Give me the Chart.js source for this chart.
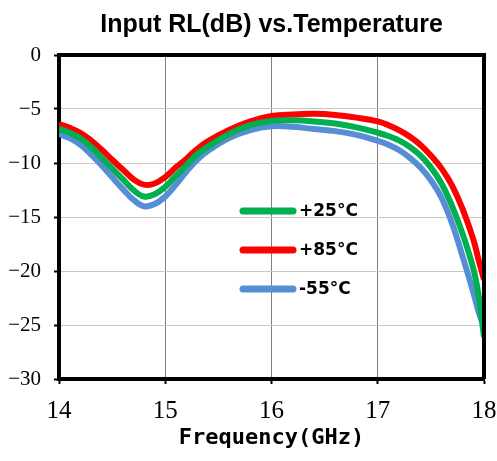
<!DOCTYPE html>
<html>
<head>
<meta charset="utf-8">
<script src="https://cdn.jsdelivr.net/npm/chart.js@4.4.0/dist/chart.umd.min.js"></script>
<style>
  body { margin: 0; background: #fff; }
  #wrap { width: 497px; height: 461px; }
</style>
</head>
<body>
<div id="wrap"><canvas id="myChart"></canvas></div>
<script>
// data
const freq = [14.0, 14.1, 14.2, 14.3, 14.4, 14.5, 14.6, 14.7, 14.8, 14.9, 15.0, 15.1, 15.2, 15.3, 15.4, 15.6, 15.8, 16.0, 16.2, 16.4, 16.6, 16.8, 17.0, 17.1, 17.2, 17.3, 17.4, 17.5, 17.6, 17.7, 17.8, 17.9, 17.95, 18.0];
const rl25 = [-6.8, -7.2, -7.7, -8.5, -9.5, -10.5, -11.5, -12.5, -13.1, -12.9, -12.2, -11.2, -10.2, -9.2, -8.5, -7.3, -6.5, -6.1, -6.05, -6.15, -6.35, -6.7, -7.2, -7.5, -7.9, -8.5, -9.3, -10.4, -11.9, -14.0, -16.6, -19.8, -22.3, -26.1];
const rl85 = [-6.4, -6.75, -7.2, -7.9, -8.75, -9.7, -10.6, -11.5, -12.0, -11.9, -11.3, -10.4, -9.6, -8.7, -8.0, -6.95, -6.15, -5.65, -5.5, -5.45, -5.55, -5.8, -6.15, -6.5, -6.95, -7.55, -8.3, -9.3, -10.5, -12.1, -14.3, -17.1, -19.0, -20.8];
const rlm55 = [-7.3, -7.7, -8.3, -9.2, -10.2, -11.3, -12.4, -13.4, -14.0, -13.8, -13.1, -12.0, -10.8, -9.7, -8.9, -7.7, -6.95, -6.6, -6.65, -6.85, -7.05, -7.4, -7.95, -8.3, -8.8, -9.5, -10.4, -11.6, -13.2, -15.6, -18.7, -22.0, -23.8, -25.2];
const labels = ['+25\u00B0C', '+85\u00B0C', '-55\u00B0C'];
const colors = ['#00b050', '#ff0000', '#558ed5'];
const chartTitle = 'Input RL(dB) vs.Temperature';

function pts(vals) {
    return freq.map(function (f, i) { return { x: f, y: vals[i] }; });
}

const series = [rl25, rl85, rlm55];
const datasets = series.map(function (vals, i) {
    return {
        label: labels[i],
        data: pts(vals),
        borderColor: colors[i],
        backgroundColor: colors[i],
        borderWidth: 6,
        pointRadius: 0,
        tension: 0.4,
        fill: false
    };
});

// top/right frame of the plot box + title centred over the plot
const frame = {
    id: 'frame',
    afterDatasetsDraw: function (chart) {
        const a = chart.chartArea;
        const ctx = chart.ctx;
        ctx.save();
        ctx.strokeStyle = '#000';
        ctx.lineWidth = 4;
        ctx.beginPath();
        ctx.moveTo(a.left - 2, a.top);
        ctx.lineTo(a.right, a.top);
        ctx.lineTo(a.right, a.bottom);
        ctx.stroke();

        ctx.fillStyle = '#000';
        ctx.font = 'bold 25px "Liberation Sans"';
        ctx.textAlign = 'center';
        ctx.textBaseline = 'middle';
        ctx.fillText(chartTitle, (a.left + a.right) / 2, 25);
        ctx.restore();
    }
};

// legend drawn inside the plot
const innerLegend = {
    id: 'innerLegend',
    afterDraw: function (chart) {
        const ctx = chart.ctx;
        ctx.save();
        chart.data.datasets.forEach(function (ds, i) {
            const y = 211 + 39 * i;
            ctx.strokeStyle = ds.borderColor;
            ctx.lineWidth = 7;
            ctx.lineCap = 'round';
            ctx.beginPath();
            ctx.moveTo(243, y);
            ctx.lineTo(293, y);
            ctx.stroke();
            ctx.fillStyle = '#000';
            ctx.font = 'bold 17px "DejaVu Sans"';
            ctx.textBaseline = 'middle';
            ctx.fillText(ds.label, 299, y + 1);
        });
        ctx.restore();
    }
};

const ctx = document.getElementById('myChart').getContext('2d');
const myChart = new Chart(ctx, {
    type: 'line',
    data: { datasets: datasets },
    options: {
        responsive: true,
        maintainAspectRatio: false,
        animation: false,
        layout: { padding: { left: 0, right: 13, top: 55, bottom: 0 } },
        plugins: {
            legend: { display: false },
            tooltip: { enabled: false },
            title: { display: false }
        },
        scales: {
            x: {
                type: 'linear',
                min: 14,
                max: 18,
                ticks: {
                    stepSize: 1,
                    color: '#000',
                    padding: 12,
                    font: { family: '"Liberation Serif"', size: 25 }
                },
                grid: {
                    color: '#7f7f7f',
                    borderDash: [2, 2],
                    tickColor: '#000',
                    tickLength: 5,
                    tickWidth: 2,
                    tickBorderDash: []
                },
                border: { color: '#000', width: 4 },
                title: {
                    display: true,
                    text: 'Frequency(GHz)',
                    color: '#000',
                    font: { family: '"DejaVu Sans Mono"', size: 22, weight: 'bold' },
                    padding: { top: 4, bottom: 10 }
                },
                afterFit: function (scale) {
                    scale.height = 82;
                    scale.paddingLeft = 0;
                    scale.paddingRight = 0;
                }
            },
            y: {
                min: -30,
                max: 0,
                ticks: {
                    stepSize: 5,
                    color: '#000',
                    padding: 13,
                    font: { family: '"Liberation Serif"', size: 21 },
                    callback: function (v) { return String(v).replace('-', '\u2212'); }
                },
                grid: {
                    color: '#c8c8c8',
                    borderDash: [2, 2],
                    tickColor: '#000',
                    tickLength: 5,
                    tickWidth: 2,
                    tickBorderDash: []
                },
                border: { color: '#000', width: 4 },
                afterFit: function (scale) {
                    scale.width = 59;
                    scale.paddingTop = 0;
                    scale.paddingBottom = 0;
                }
            }
        }
    },
    plugins: [frame, innerLegend]
});
</script>
</body>
</html>
